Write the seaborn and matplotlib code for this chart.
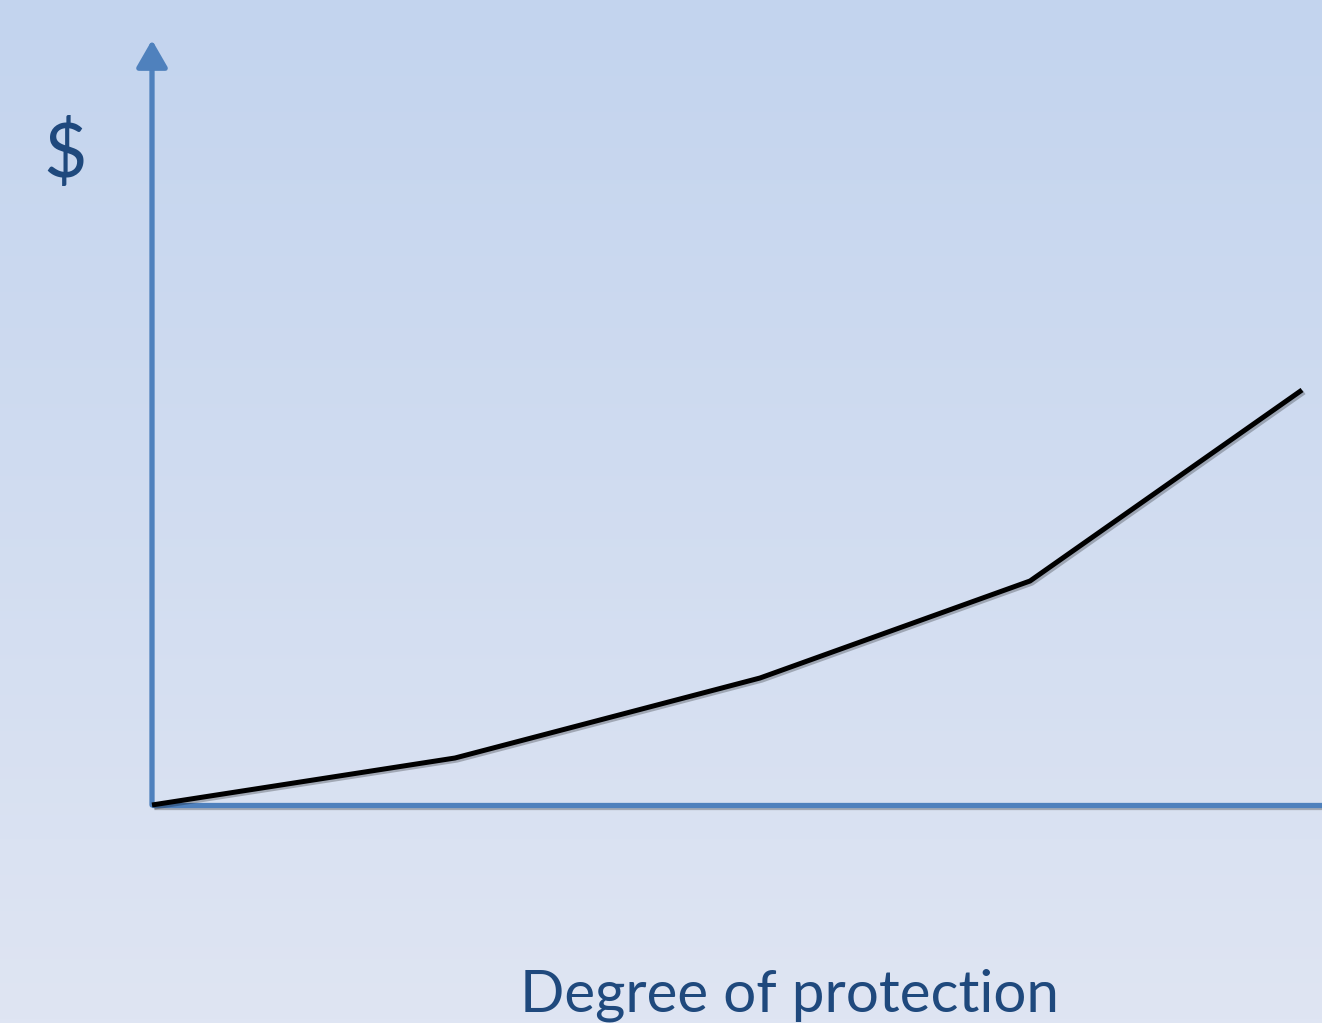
import numpy as np
import matplotlib
matplotlib.use("Agg")
import matplotlib.pyplot as plt
import matplotlib.patheffects as pe
from matplotlib.colors import LinearSegmentedColormap
import seaborn as sns

# Data
degree = [0.0, 3.03, 6.08, 8.78, 11.50]
cost = [0.0, 0.47, 1.27, 2.24, 4.15]
y_label = "$"
x_label = "Degree of protection"

sns.set_style("white")
plt.rcParams['font.family'] = ['Lato', 'DejaVu Sans']

W, H = 1322, 1023
fig = plt.figure(figsize=(W / 100, H / 100), dpi=100)
ax = fig.add_axes([0, 0, 1, 1])

# pixel mapping: origin at pixel (152, 805); 100 px per unit
x0, y0 = 152, 805
xlim = (-x0 / 100, (W - x0) / 100)
ylim = (-(H - y0) / 100, y0 / 100)

# gradient background
cmap = LinearSegmentedColormap.from_list("bg", ["#dfe5f3", "#c3d4ee"])
grad = np.linspace(0, 1, 256).reshape(-1, 1)
ax.imshow(grad, cmap=cmap, aspect="auto", origin="lower",
          extent=[xlim[0], xlim[1], ylim[0], ylim[1]], zorder=0)

axis_col = "#4f81bd"
shadow = [pe.SimplePatchShadow(offset=(1.5, -1.5), alpha=0.25), pe.Normal()]
lshadow = [pe.SimpleLineShadow(offset=(1.5, -1.5), alpha=0.25), pe.Normal()]

# x axis line
ax.plot([0, xlim[1]], [0, 0], color=axis_col, lw=3.8, solid_capstyle="butt",
        zorder=2, path_effects=lshadow)
# y axis arrow
ax.annotate("", xy=(0, (y0 - 40) / 100), xytext=(0, 0),
            arrowprops=dict(arrowstyle="-|>,head_length=1.65,head_width=0.95",
                            color=axis_col, lw=3.8, shrinkA=0, shrinkB=0,
                            path_effects=shadow),
            zorder=2)

sns.lineplot(x=degree, y=cost, ax=ax, color="black", lw=3.6, zorder=3,
             solid_capstyle="butt", path_effects=lshadow)

ax.set_xlim(*xlim)
ax.set_ylim(*ylim)
ax.axis("off")

txt_col = "#1f497d"
fig.text(65 / W, 1 - 155 / H, y_label, color=txt_col, fontsize=54,
         ha="center", va="center")
fig.text(790 / W, 1 - 995 / H, x_label, color=txt_col, fontsize=42,
         ha="center", va="center")

fig.savefig("out.png", dpi=100)
